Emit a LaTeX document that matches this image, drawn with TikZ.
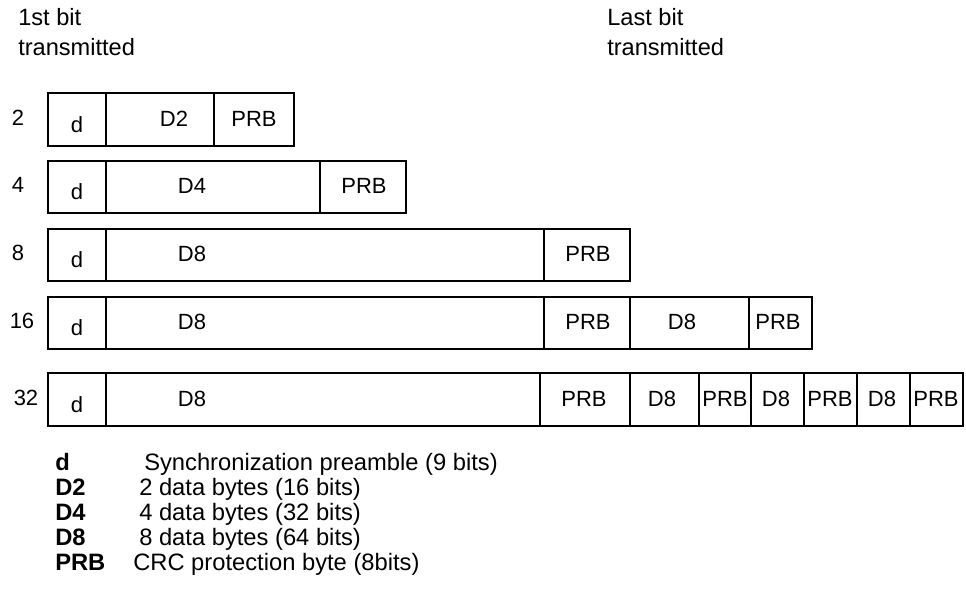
\documentclass[tikz,border=0pt]{standalone}
\usepackage{fontspec}
\setmainfont{Liberation Sans}
\newcommand\fcell[5]{\node[cell, minimum width={(#3-#2)*0.75pt}, minimum height={(#5-#4)*0.75pt}] (#1) at ({(#2+#3)/2},{(#4+#5)/2}) {};}
\newcommand\flbl[4]{\node[lbl] (#1) at (#2,#3) {#4};}
\begin{document}
\begin{tikzpicture}[x=0.75pt,y=-0.75pt,
  cell/.style={draw, line width=1.6pt, inner sep=0pt, outer sep=0pt},
  lbl/.style={anchor=base, inner sep=0pt, font=\fontsize{16.5}{16.5}\selectfont},
  hdr/.style={anchor=base west, inner sep=0pt, font=\fontsize{17.7}{17.7}\selectfont},
  key/.style={anchor=base west, inner sep=0pt, font=\fontsize{17.8}{17.8}\selectfont\bfseries},
  desc/.style={anchor=base west, inner sep=0pt, font=\fontsize{17.8}{17.8}\selectfont}]
\fill[white] (0,0) rectangle (966,596);
\useasboundingbox (0,0) rectangle (966,596);
% headers
\node[hdr] (h1) at (18,25) {1st bit};
\node[hdr] (h2) at (18,55) {transmitted};
\node[hdr] (h3) at (607,25) {Last bit};
\node[hdr] (h4) at (607,55) {transmitted};
% row 2
\fcell{a1}{48}{106}{93}{146}\fcell{a2}{106}{214}{93}{146}\fcell{a3}{214}{294}{93}{146}
\flbl{ra}{18}{125}{2}\flbl{ta1}{77}{132}{d}\flbl{ta2}{174}{126}{D2}\flbl{ta3}{254}{126}{PRB}
% row 4
\fcell{b1}{48}{106}{161}{213}\fcell{b2}{106}{320}{161}{213}\fcell{b3}{320}{406}{161}{213}
\flbl{rb}{18}{192}{4}\flbl{tb1}{77}{199}{d}\flbl{tb2}{192}{193}{D4}\flbl{tb3}{364}{193}{PRB}
% row 8
\fcell{c1}{48}{106}{229}{281}\fcell{c2}{106}{544}{229}{281}\fcell{c3}{544}{630}{229}{281}
\flbl{rc}{18}{260}{8}\flbl{tc1}{77}{267}{d}\flbl{tc2}{192}{261}{D8}\flbl{tc3}{588}{261}{PRB}
% row 16
\fcell{e1}{48}{106}{297}{349}\fcell{e2}{106}{544}{297}{349}\fcell{e3}{544}{630}{297}{349}\fcell{e4}{630}{749}{297}{349}\fcell{e5}{749}{812}{297}{349}
\flbl{re}{22}{328}{16}\flbl{te1}{77}{335}{d}\flbl{te2}{192}{329}{D8}\flbl{te3}{588}{329}{PRB}\flbl{te4}{682}{329}{D8}\flbl{te5}{778}{329}{PRB}
% row 32
\fcell{f1}{48}{106}{373}{426}\fcell{f2}{106}{540}{373}{426}\fcell{f3}{540}{630}{373}{426}\fcell{f4}{630}{699}{373}{426}\fcell{f5}{699}{751}{373}{426}\fcell{f6}{751}{804}{373}{426}\fcell{f7}{804}{857}{373}{426}\fcell{f8}{857}{910}{373}{426}\fcell{f9}{910}{963}{373}{426}
\flbl{rf}{26}{405}{32}\flbl{tf1}{77}{412}{d}\flbl{tf2}{192}{406}{D8}\flbl{tf3}{584}{406}{PRB}\flbl{tf4}{662}{406}{D8}\flbl{tf5}{725}{406}{PRB}\flbl{tf6}{776}{406}{D8}\flbl{tf7}{830}{406}{PRB}\flbl{tf8}{882}{406}{D8}\flbl{tf9}{936}{406}{PRB}
% legend
\node[key] (k1) at (55,470) {d};
\node[desc] (l1) at (144,470) {Synchronization preamble (9 bits)};
\node[key] (k2) at (55,495) {D2};
\node[desc] (l2) at (139,495) {2 data bytes (16 bits)};
\node[key] (k3) at (55,520) {D4};
\node[desc] (l3) at (139,520) {4 data bytes (32 bits)};
\node[key] (k4) at (55,545) {D8};
\node[desc] (l4) at (139,545) {8 data bytes (64 bits)};
\node[key] (k5) at (55,570) {PRB};
\node[desc] (l5) at (133,570) {CRC protection byte (8bits)};
\end{tikzpicture}
\end{document}
